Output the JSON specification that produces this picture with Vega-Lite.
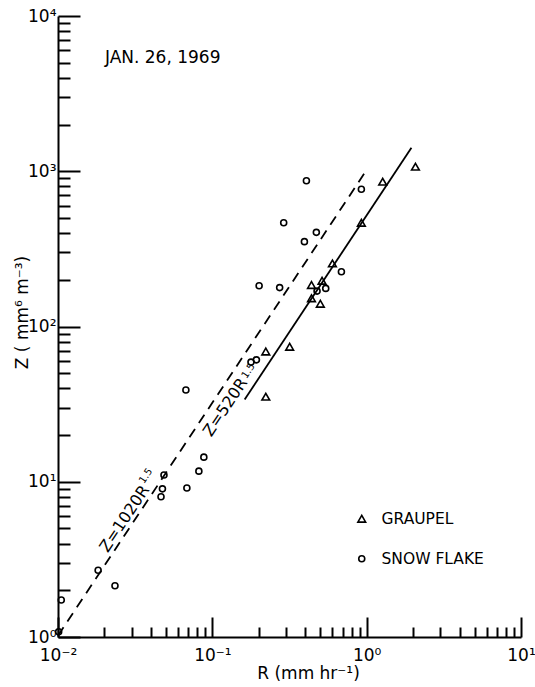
{
  "$schema": "https://vega.github.io/schema/vega-lite/v6.json",
  "width": 463,
  "height": 621,
  "autosize": {"type": "none"},
  "padding": {"left": 58, "top": 16, "right": 14, "bottom": 50},
  "background": "white",
  "config": {
    "view": {"stroke": null},
    "font": "DejaVu Sans",
    "axis": {
      "grid": false,
      "domainColor": "black",
      "domainWidth": 2,
      "tickColor": "black",
      "tickWidth": 2,
      "labelColor": "black",
      "titleColor": "black",
      "labelFont": "DejaVu Sans",
      "titleFont": "DejaVu Sans",
      "labelFontSize": 17,
      "titleFontSize": 17,
      "titleFontWeight": "normal",
      "labelOverlap": false,
      "labelFlush": false
    },
    "legend": {
      "orient": "none",
      "legendX": 296,
      "legendY": 495,
      "labelFont": "DejaVu Sans",
      "labelFontSize": 15.5,
      "labelColor": "black",
      "rowPadding": 23,
      "labelOffset": 12,
      "symbolStrokeWidth": 1.6
    }
  },
  "datasets": {
    "points": [
      {"R": 0.0101, "Z": 1.08, "type": "SNOW FLAKE"},
      {"R": 0.0105, "Z": 1.73, "type": "SNOW FLAKE"},
      {"R": 0.0182, "Z": 2.69, "type": "SNOW FLAKE"},
      {"R": 0.0234, "Z": 2.14, "type": "SNOW FLAKE"},
      {"R": 0.0475, "Z": 9.0, "type": "SNOW FLAKE"},
      {"R": 0.0465, "Z": 8.0, "type": "SNOW FLAKE"},
      {"R": 0.0486, "Z": 11.05, "type": "SNOW FLAKE"},
      {"R": 0.0684, "Z": 9.12, "type": "SNOW FLAKE"},
      {"R": 0.0818, "Z": 11.7, "type": "SNOW FLAKE"},
      {"R": 0.0881, "Z": 14.4, "type": "SNOW FLAKE"},
      {"R": 0.0674, "Z": 39, "type": "SNOW FLAKE"},
      {"R": 0.178, "Z": 59, "type": "SNOW FLAKE"},
      {"R": 0.193, "Z": 61, "type": "SNOW FLAKE"},
      {"R": 0.407, "Z": 869, "type": "SNOW FLAKE"},
      {"R": 0.29, "Z": 466, "type": "SNOW FLAKE"},
      {"R": 0.472, "Z": 404, "type": "SNOW FLAKE"},
      {"R": 0.395, "Z": 352, "type": "SNOW FLAKE"},
      {"R": 0.201, "Z": 183, "type": "SNOW FLAKE"},
      {"R": 0.273, "Z": 178, "type": "SNOW FLAKE"},
      {"R": 0.686, "Z": 225, "type": "SNOW FLAKE"},
      {"R": 0.477, "Z": 169, "type": "SNOW FLAKE"},
      {"R": 0.543, "Z": 176, "type": "SNOW FLAKE"},
      {"R": 0.924, "Z": 765, "type": "SNOW FLAKE"},
      {"R": 2.07, "Z": 1070, "type": "GRAUPEL"},
      {"R": 1.27, "Z": 857, "type": "GRAUPEL"},
      {"R": 0.924, "Z": 466, "type": "GRAUPEL"},
      {"R": 0.6, "Z": 255, "type": "GRAUPEL"},
      {"R": 0.439, "Z": 185, "type": "GRAUPEL"},
      {"R": 0.514, "Z": 197, "type": "GRAUPEL"},
      {"R": 0.439, "Z": 152, "type": "GRAUPEL"},
      {"R": 0.501, "Z": 140, "type": "GRAUPEL"},
      {"R": 0.317, "Z": 74, "type": "GRAUPEL"},
      {"R": 0.222, "Z": 69, "type": "GRAUPEL"},
      {"R": 0.222, "Z": 35.3, "type": "GRAUPEL"}
    ],
    "lines": [
      {"R": 0.01, "Z": 1.02, "eq": "Z=1020R^1.5"},
      {"R": 1.0, "Z": 1020, "eq": "Z=1020R^1.5"},
      {"R": 0.162, "Z": 33.9, "eq": "Z=520R^1.5"},
      {"R": 1.95, "Z": 1416, "eq": "Z=520R^1.5"}
    ],
    "labels": [
      {"R": 0.02699, "Z": 5.781, "text": "Z=1020R", "role": "main"},
      {"R": 0.03711, "Z": 10.89, "text": "1.5", "role": "sup"},
      {"R": 0.1215, "Z": 30.2, "text": "Z=520R", "role": "main"},
      {"R": 0.1715, "Z": 51.7, "text": "1.5", "role": "sup"},
      {"R": 0.02014, "Z": 5364, "text": "JAN. 26, 1969", "role": "date"}
    ]
  },
  "encoding": {
    "x": {
      "field": "R",
      "type": "quantitative",
      "scale": {"type": "log", "domain": [0.01, 10], "nice": false, "zero": false},
      "axis": {
        "title": "R (mm hr⁻¹)",
        "values": [0.01, 0.02, 0.03, 0.04, 0.05, 0.06, 0.07, 0.08, 0.09, 0.1, 0.2, 0.3, 0.4, 0.5, 0.6, 0.7, 0.8, 0.9, 1, 2, 3, 4, 5, 6, 7, 8, 9, 10],
        "labelExpr": "datum.value == 0.01 ? '10⁻²' : datum.value == 0.1 ? '10⁻¹' : datum.value == 1 ? '10⁰' : datum.value == 10 ? '10¹' : ''",
        "tickSize": {"condition": {"test": "datum.value == 0.01 || datum.value == 0.1 || datum.value == 1 || datum.value == 10", "value": -20}, "value": -10},
        "labelPadding": 30,
        "titleX": 250,
        "titleY": 36,
        "titleBaseline": "middle"
      }
    },
    "y": {
      "field": "Z",
      "type": "quantitative",
      "scale": {"type": "log", "domain": [1, 10000], "nice": false, "zero": false},
      "axis": {
        "title": "Z ( mm⁶ m⁻³)",
        "values": [1, 2, 3, 4, 5, 6, 7, 8, 9, 10, 20, 30, 40, 50, 60, 70, 80, 90, 100, 200, 300, 400, 500, 600, 700, 800, 900, 1000, 2000, 3000, 4000, 5000, 6000, 7000, 8000, 9000, 10000],
        "labelExpr": "datum.value == 1 ? '10⁰' : datum.value == 10 ? '10¹' : datum.value == 100 ? '10²' : datum.value == 1000 ? '10³' : datum.value == 10000 ? '10⁴' : ''",
        "tickSize": {"condition": {"test": "datum.value == 1 || datum.value == 10 || datum.value == 100 || datum.value == 1000 || datum.value == 10000", "value": -22}, "value": -12},
        "labelPadding": 24,
        "labelBaseline": "middle",
        "titleX": -36,
        "titleY": 296,
        "titleBaseline": "middle",
        "titleAlign": "center"
      }
    }
  },
  "layer": [
    {
      "data": {"name": "lines"},
      "transform": [{"filter": "datum.eq == 'Z=1020R^1.5'"}],
      "mark": {"type": "line", "color": "black", "strokeWidth": 1.8, "strokeDash": [10, 7]},
      "encoding": {}
    },
    {
      "data": {"name": "lines"},
      "transform": [{"filter": "datum.eq == 'Z=520R^1.5'"}],
      "mark": {"type": "line", "color": "black", "strokeWidth": 1.8},
      "encoding": {}
    },
    {
      "data": {"name": "points"},
      "mark": {"type": "point", "filled": false, "color": "black", "strokeWidth": 1.6, "opacity": 1},
      "encoding": {
        "shape": {
          "field": "type",
          "type": "nominal",
          "scale": {"domain": ["GRAUPEL", "SNOW FLAKE"], "range": ["triangle-up", "circle"]},
          "legend": {"title": null}
        },
        "size": {
          "field": "type",
          "type": "nominal",
          "scale": {"domain": ["GRAUPEL", "SNOW FLAKE"], "range": [60, 36]},
          "legend": {"title": null}
        }
      }
    },
    {
      "data": {"name": "labels"},
      "transform": [{"filter": "datum.role == 'main'"}],
      "mark": {"type": "text", "angle": -56.4, "align": "center", "baseline": "middle", "font": "DejaVu Sans", "fontSize": 16, "color": "black"},
      "encoding": {"text": {"field": "text"}}
    },
    {
      "data": {"name": "labels"},
      "transform": [{"filter": "datum.role == 'sup'"}],
      "mark": {"type": "text", "angle": -56.4, "align": "center", "baseline": "middle", "font": "DejaVu Sans", "fontSize": 10, "color": "black"},
      "encoding": {"text": {"field": "text"}}
    },
    {
      "data": {"name": "labels"},
      "transform": [{"filter": "datum.role == 'date'"}],
      "mark": {"type": "text", "align": "left", "baseline": "middle", "font": "DejaVu Sans", "fontSize": 17, "color": "black"},
      "encoding": {"text": {"field": "text"}}
    }
  ]
}
